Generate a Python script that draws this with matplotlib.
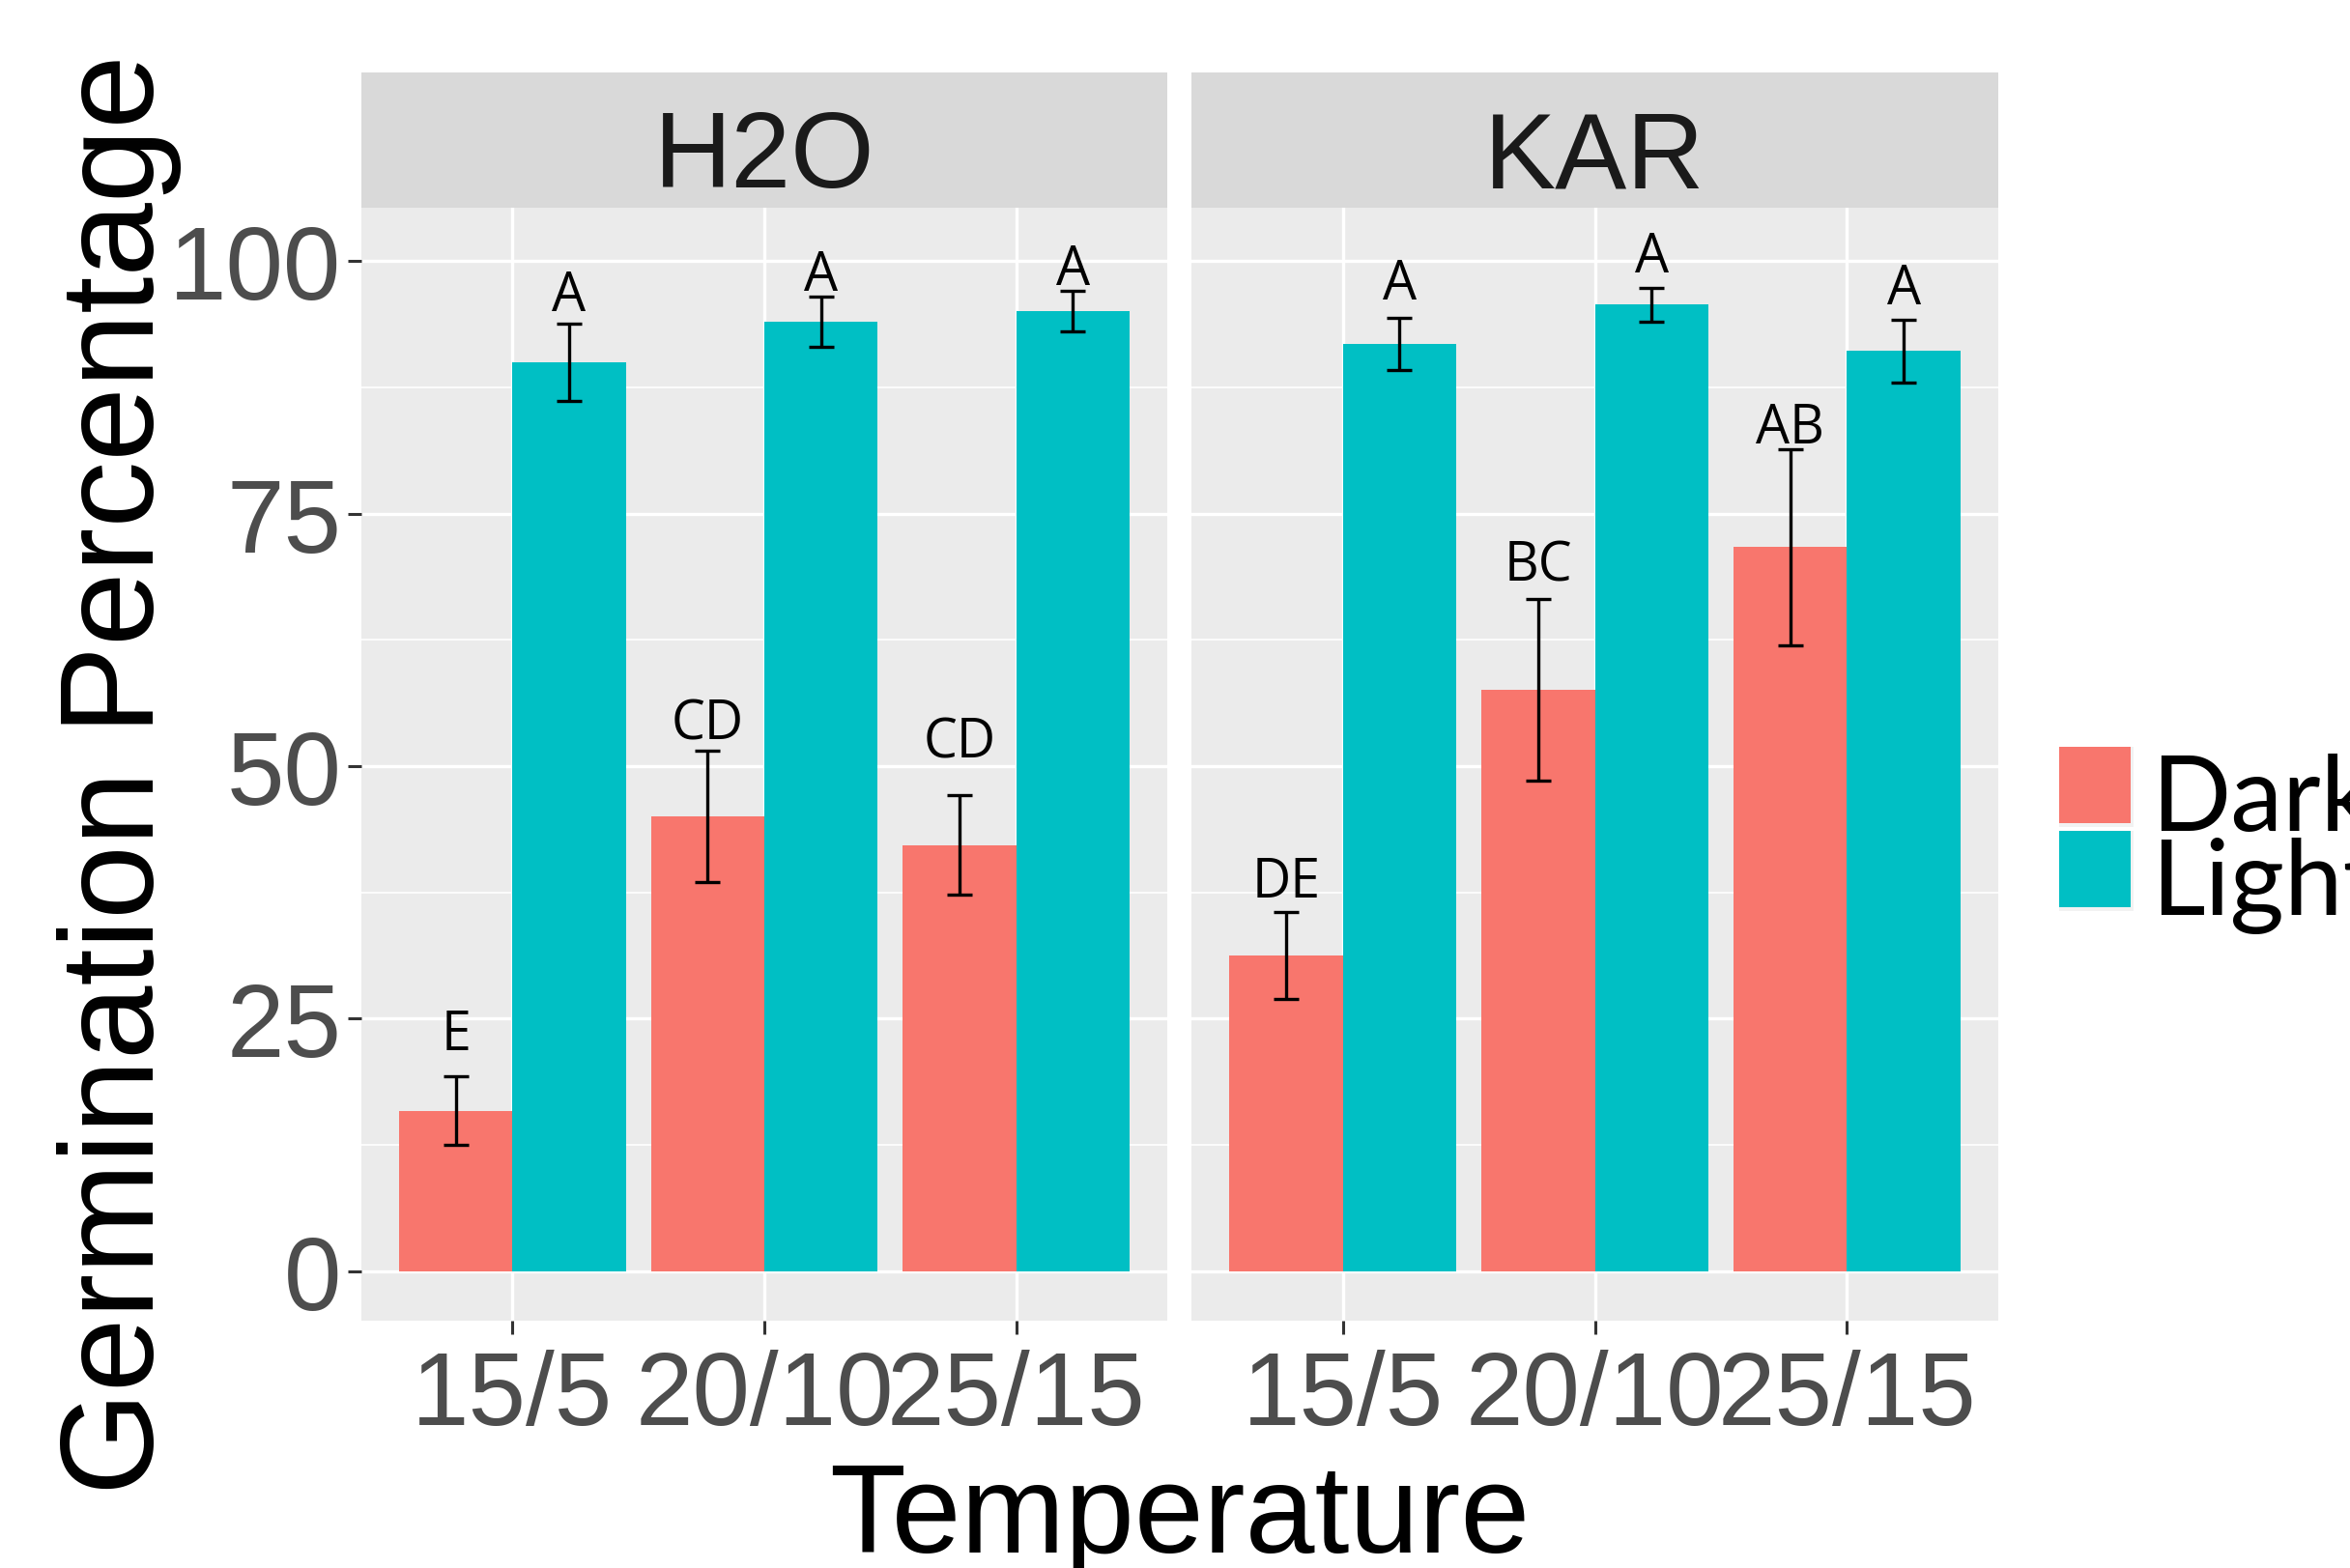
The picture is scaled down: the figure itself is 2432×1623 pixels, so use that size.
import matplotlib
matplotlib.use('Agg')
import matplotlib.pyplot as plt
from matplotlib.patches import Rectangle
import numpy as np

# --- DATA ---
temperaturas = ['15/5', '20/10', '25/15']
tratamentos = ['H2O', 'KAR']

h2o_dark = [15.9, 45.0, 42.2]
h2o_dark_se = [3.4, 6.5, 4.9]
h2o_light = [90.0, 94.0, 95.1]
h2o_light_se = [3.8, 2.5, 2.0]

kar_dark = [31.3, 57.6, 71.7]
kar_dark_se = [4.3, 9.0, 9.7]
kar_light = [91.8, 95.7, 91.1]
kar_light_se = [2.6, 1.7, 3.1]

# letras de significancia e altura onde ficam
h2o_dark_letras = ['E', 'CD', 'CD']
h2o_dark_letras_y = [22.0, 52.7, 50.9]
h2o_light_letras = ['A', 'A', 'A']
h2o_light_letras_y = [95.2, 97.2, 97.7]
kar_dark_letras = ['DE', 'BC', 'AB']
kar_dark_letras_y = [37.1, 68.4, 82.1]
kar_light_letras = ['A', 'A', 'A']
kar_light_letras_y = [96.3, 99.0, 95.8]

# --- CONFIG ---
W, H = 2432, 1624
COR_DARK = '#F8766D'
COR_LIGHT = '#00BFC4'
FUNDO_PAINEL = '#EBEBEB'
FUNDO_STRIP = '#D9D9D9'
LARGURA = 0.45

plt.rcParams['font.family'] = ['Liberation Sans', 'DejaVu Sans']

fig = plt.figure(figsize=(W / 100, H / 100), dpi=100)
fig.patch.set_facecolor('white')


def px(x0, y0, x1, y1):
    # caixa em pixels (origem no topo) -> fracao da figura
    return [x0 / W, 1 - y1 / H, (x1 - x0) / W, (y1 - y0) / H]


paineis = [
    (px(374, 216, 1208, 1368), px(374, 76, 1208, 216)),
    (px(1233, 216, 2068, 1368), px(1233, 76, 2068, 216)),
]

series = [
    (h2o_dark, h2o_dark_se, h2o_light, h2o_light_se,
     h2o_dark_letras, h2o_dark_letras_y, h2o_light_letras, h2o_light_letras_y),
    (kar_dark, kar_dark_se, kar_light, kar_light_se,
     kar_dark_letras, kar_dark_letras_y, kar_light_letras, kar_light_letras_y),
]

x = np.arange(1, len(temperaturas) + 1)

for i, (pos_ax, pos_strip) in enumerate(paineis):
    ax = fig.add_axes(pos_ax)
    dark, dark_se, light, light_se, ld, ld_y, ll, ll_y = series[i]

    ax.set_facecolor(FUNDO_PAINEL)
    ax.bar(x - LARGURA / 2, dark, width=LARGURA, color=COR_DARK, zorder=2)
    ax.bar(x + LARGURA / 2, light, width=LARGURA, color=COR_LIGHT, zorder=2)
    ax.errorbar(x - LARGURA / 2, dark, yerr=dark_se, fmt='none', ecolor='black',
                elinewidth=2.4, capsize=9.4, capthick=2.4, zorder=3)
    ax.errorbar(x + LARGURA / 2, light, yerr=light_se, fmt='none', ecolor='black',
                elinewidth=2.4, capsize=9.4, capthick=2.4, zorder=3)

    for xi, txt, yi in zip(x - LARGURA / 2, ld, ld_y):
        ax.text(xi, yi, txt, ha='center', va='baseline', fontsize=40,
                family=['Open Sans', 'DejaVu Sans'], color='black', zorder=4)
    for xi, txt, yi in zip(x + LARGURA / 2, ll, ll_y):
        ax.text(xi, yi, txt, ha='center', va='baseline', fontsize=40,
                family=['Open Sans', 'DejaVu Sans'], color='black', zorder=4)

    ax.set_xlim(0.4, 3.6)
    ax.set_ylim(-4.9, 105.3)
    ax.set_xticks(x)
    ax.set_xticklabels(temperaturas)
    ax.set_yticks([0, 25, 50, 75, 100])
    ax.set_yticks([12.5, 37.5, 62.5, 87.5], minor=True)

    ax.grid(which='major', color='white', linewidth=2.4, zorder=0)
    ax.grid(which='minor', axis='y', color='white', linewidth=1.2, zorder=0)
    ax.set_axisbelow(True)
    for s in ax.spines.values():
        s.set_visible(False)

    ax.tick_params(axis='both', which='major', length=10, width=2.2,
                   color='#333333', labelcolor='#4D4D4D', labelsize=77)
    ax.tick_params(axis='x', pad=11)
    ax.tick_params(axis='y', pad=5)
    ax.tick_params(which='minor', length=0)
    if i > 0:
        ax.tick_params(axis='y', which='both', left=False, labelleft=False)

    # faixa com o nome do tratamento
    st = fig.add_axes(pos_strip)
    st.set_facecolor(FUNDO_STRIP)
    st.set_xticks([])
    st.set_yticks([])
    for s in st.spines.values():
        s.set_visible(False)
    st.text(0.5, 0.157, tratamentos[i], transform=st.transAxes, ha='center',
            va='baseline', fontsize=80, color='#1A1A1A')

# --- TITULOS DOS EIXOS ---
fig.text(1221 / W, 1 - 1607 / H, 'Temperature', ha='center', va='baseline',
         fontsize=93, color='black')
fig.text(159 / W, 1 - 802 / H, 'Germination Percentage', rotation=90,
         rotation_mode='anchor', ha='center', va='baseline', fontsize=99,
         color='black')

# --- LEGENDA (desenhada a mao) ---
for nome, cor, y_fill, y_base in [('Dark', COR_DARK, 774, 860),
                                   ('Light', COR_LIGHT, 861, 947)]:
    fig.patches.append(Rectangle((2131 / W, 1 - (y_fill + 83) / H), 77 / W, 83 / H,
                                 transform=fig.transFigure, facecolor='#F2F2F2',
                                 edgecolor='none'))
    fig.patches.append(Rectangle((2131 / W, 1 - (y_fill + 79) / H), 74 / W, 79 / H,
                                 transform=fig.transFigure, facecolor=cor,
                                 edgecolor='none'))
    fig.text(2226 / W, 1 - y_base / H, nome, ha='left', va='baseline', fontsize=78,
             family=['Lato', 'DejaVu Sans'], color='black')

fig.savefig('out.png', dpi=100)
